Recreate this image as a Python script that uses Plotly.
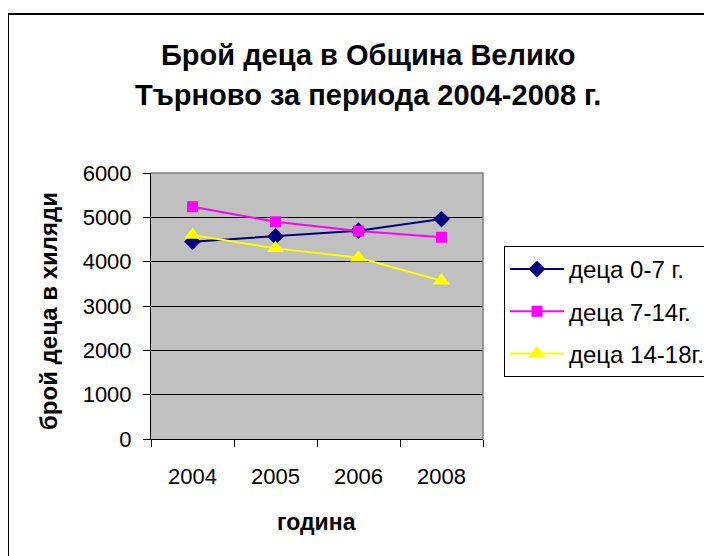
import plotly.graph_objects as go

years = ["2004", "2005", "2006", "2008"]
s_0_7 = [4450, 4570, 4700, 4960]
s_7_14 = [5240, 4900, 4690, 4550]
s_14_18 = [4600, 4300, 4090, 3570]
series_names = ["деца 0-7 г.", "деца 7-14г.", "деца 14-18г."]
y_ticks = [0, 1000, 2000, 3000, 4000, 5000, 6000]

FONT = "Arial, 'Liberation Sans', sans-serif"
W, H = 712, 556
OFF = 8  # page body offset
L, R, T, B = 151 - OFF, 483 - OFF, 173 - OFF, 439 - OFF  # plot area pixels in figure


def px_x(p):
    return (p - OFF - L) / (R - L)


def px_y(p):
    return (B - (p - OFF)) / (B - T)


fig = go.Figure()
styles = [
    dict(color="#000080", symbol="diamond", size=13),
    dict(color="#FF00FF", symbol="square", size=11),
    dict(color="#FFFF00", symbol="triangle-up", size=15),
]
for i, (name, vals) in enumerate(zip(series_names, [s_0_7, s_7_14, s_14_18])):
    st = styles[i]
    fig.add_trace(go.Scatter(
        x=years, y=vals, name=name, mode="lines+markers",
        line=dict(color=st["color"], width=2),
        marker=dict(color=st["color"], symbol=st["symbol"], size=st["size"], line=dict(width=0)),
        legendgroup=f"g{i}",
    ))

fig.update_layout(
    width=W, height=H,
    margin=dict(l=L, r=W - R, t=T, b=H - B, autoexpand=False),
    paper_bgcolor="white", plot_bgcolor="#C0C0C0",
    font=dict(family=FONT, color="black", size=22),
    showlegend=True,
    legend=dict(
        x=px_x(504), y=px_y(246), xanchor="left", yanchor="top",
        bordercolor="black", borderwidth=1, bgcolor="white",
        font=dict(family=FONT, size=24, color="black"),
        tracegroupgap=8, itemwidth=54,
    ),
    xaxis=dict(
        type="category", range=[-0.5, 3.5], tickson="boundaries",
        ticks="outside", ticklen=7, tickcolor="black", tickwidth=1,
        showline=True, linecolor="black", linewidth=1,
        showgrid=False, zeroline=False,
        tickfont=dict(family=FONT, size=22, color="black"),
        ticklabelstandoff=18,
    ),
    yaxis=dict(
        range=[0, 6000], tickvals=y_ticks, ticktext=[str(v) for v in y_ticks],
        ticks="outside", ticklen=7, tickcolor="black", tickwidth=1,
        showline=True, linecolor="black", linewidth=1,
        showgrid=True, gridcolor="black", gridwidth=1, zeroline=False,
        tickfont=dict(family=FONT, size=22, color="black"),
        ticklabelstandoff=7,
    ),
    shapes=[
        dict(type="rect", xref="paper", yref="paper",
             x0=px_x(8), y0=px_y(600), x1=px_x(760), y1=px_y(14),
             line=dict(color="black", width=2), layer="below"),
        dict(type="path", xref="paper", yref="paper",
             path="M 0,1 L 1,1 L 1,0", line=dict(color="#808080", width=1.5), layer="above"),
    ],
    annotations=[
        dict(text="<b>Брой деца в Община Велико</b>", xref="paper", yref="paper",
             x=px_x(368), y=px_y(55), xanchor="center", yanchor="middle", showarrow=False,
             font=dict(family=FONT, size=29, color="black")),
        dict(text="<b>Търново за периода 2004-2008 г.</b>", xref="paper", yref="paper",
             x=px_x(368), y=px_y(95), xanchor="center", yanchor="middle", showarrow=False,
             font=dict(family=FONT, size=29, color="black")),
        dict(text="<b>брой деца в хиляди</b>", xref="paper", yref="paper",
             x=px_x(48), y=px_y(311), xanchor="center", yanchor="middle", showarrow=False,
             textangle=-90, font=dict(family=FONT, size=24, color="black")),
        dict(text="<b>година</b>", xref="paper", yref="paper",
             x=px_x(316), y=px_y(522), xanchor="center", yanchor="middle", showarrow=False,
             font=dict(family=FONT, size=23, color="black")),
    ],
)

fig.write_html("out.html")
